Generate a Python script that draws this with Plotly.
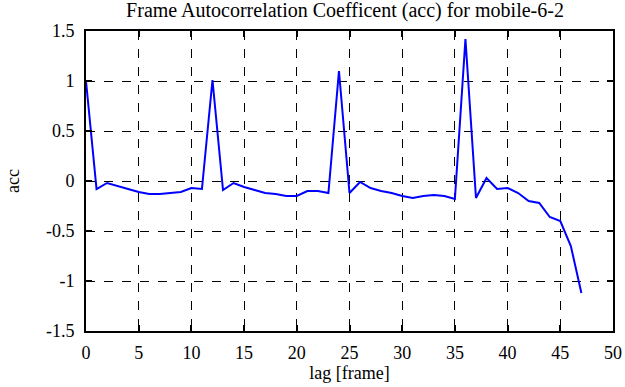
import plotly.graph_objects as go

lag = list(range(48))
acc = [1.00, -0.08, -0.02, -0.05, -0.08, -0.11, -0.13, -0.13, -0.12, -0.11,
       -0.07, -0.08, 1.01, -0.09, -0.02, -0.06, -0.09, -0.12, -0.13, -0.15,
       -0.15, -0.10, -0.10, -0.12, 1.10, -0.12, -0.01, -0.07, -0.10, -0.12,
       -0.15, -0.17, -0.15, -0.14, -0.15, -0.18, 1.42, -0.17, 0.03, -0.08,
       -0.07, -0.12, -0.20, -0.22, -0.36, -0.40, -0.65, -1.12]
xticks = [0, 5, 10, 15, 20, 25, 30, 35, 40, 45, 50]
yticks = [-1.5, -1, -0.5, 0, 0.5, 1, 1.5]
ytext = ["-1.5", "-1", "-0.5", "0", "0.5", "1", "1.5"]

font = "Liberation Serif, Times New Roman, serif"
fig = go.Figure(go.Scatter(x=lag, y=acc, mode="lines",
                           line=dict(color="#0000ff", width=2)))
axcommon = dict(showline=True, linecolor="black", linewidth=2, mirror="ticks",
                ticks="inside", ticklen=6, tickwidth=2, tickcolor="black",
                showgrid=True, gridcolor="black", griddash="dash", gridwidth=1,
                zeroline=False, automargin=False,
                tickfont=dict(family=font, size=18, color="black"))
fig.update_xaxes(range=[0, 50], tickvals=xticks, ticklabelstandoff=4,
                 title=dict(text="lag [frame]", font=dict(family=font, size=18, color="black"), standoff=5),
                 **axcommon)
fig.update_yaxes(range=[-1.5, 1.5], tickvals=yticks, ticktext=ytext, ticklabelstandoff=6,
                 title=dict(text="acc", font=dict(family=font, size=18, color="black"), standoff=22),
                 **axcommon)
fig.update_layout(width=625, height=387, plot_bgcolor="white", paper_bgcolor="white",
                  margin=dict(l=86, r=12, t=31, b=56), showlegend=False,
                  title=dict(text="Frame Autocorrelation Coefficent (acc) for mobile-6-2",
                             font=dict(family=font, size=20, color="black"),
                             x=0.552, xanchor="center", y=0.974, yanchor="middle"))
fig.write_html("out.html", config={"displayModeBar": False},
               post_script="document.body.style.margin='0';")
